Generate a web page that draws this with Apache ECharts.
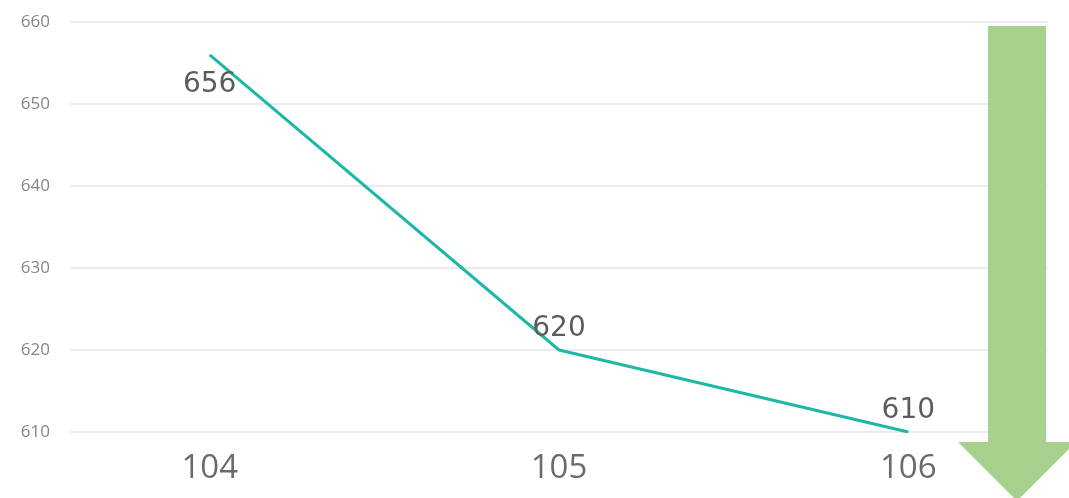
<!DOCTYPE html>
<html>
<head>
<meta charset="utf-8">
<script src="https://cdn.jsdelivr.net/npm/echarts@6/dist/echarts.min.js"></script>
<style>
    html, body { margin: 0; padding: 0; background: #fff; }
    #chart { width: 1069px; height: 498px; }
</style>
</head>
<body>
<div id="chart"></div>
<script>
const categories = [104, 105, 106]
const values = [656, 620, 610]
const labelPos = ['bottom', 'top', 'top']
const yTicks = [610, 620, 630, 640, 650, 660]

const chart = echarts.init(document.getElementById('chart'))

// 右侧下降箭头
const arrow = {
    type: 'polygon',
    shape: {
        points: [[988, 26], [1046, 26], [1046, 442], [1076, 442], [1017, 501], [958, 442], [988, 442]]
    },
    style: { fill: '#a9d18e' },
    z: 10
}

const option = {
    backgroundColor: '#fff',
    animation: false,
    grid: { left: 70, right: 21, top: 22, bottom: 66 },
    xAxis: {
        type: 'value',
        min: 103.6,
        max: 106.4,
        axisLine: { show: false },
        axisTick: { show: false },
        splitLine: { show: false },
        axisLabel: {
            customValues: categories,
            fontSize: 33,
            fontFamily: 'Open Sans',
            color: '#6b6b6b',
            margin: 20
        }
    },
    yAxis: {
        type: 'value',
        min: yTicks[0],
        max: yTicks[yTicks.length - 1],
        interval: 10,
        axisLine: { show: false },
        axisTick: { show: false },
        splitLine: { lineStyle: { color: '#ebebeb', width: 2 } },
        axisLabel: {
            fontSize: 17,
            fontFamily: 'Open Sans',
            color: '#858585',
            margin: 20
        }
    },
    series: [
        {
            type: 'line',
            data: categories.map((c, i) => [c, values[i]]),
            showSymbol: false,
            lineStyle: { color: '#1cb8a4', width: 3 }
        },
        {
            // 数值标签
            type: 'scatter',
            data: categories.map((c, i) => ({
                value: [c, values[i]],
                label: {
                    position: labelPos[i],
                    distance: labelPos[i] === 'top' ? 6 : 15
                }
            })),
            symbolSize: 2,
            itemStyle: { color: 'rgba(0,0,0,0)', opacity: 1 },
            label: {
                show: true,
                fontSize: 28,
                fontFamily: 'DejaVu Sans',
                color: '#5c5c5c',
                formatter: p => p.value[1]
            },
            z: 5
        }
    ],
    graphic: [arrow]
}

chart.setOption(option)
</script>
</body>
</html>
